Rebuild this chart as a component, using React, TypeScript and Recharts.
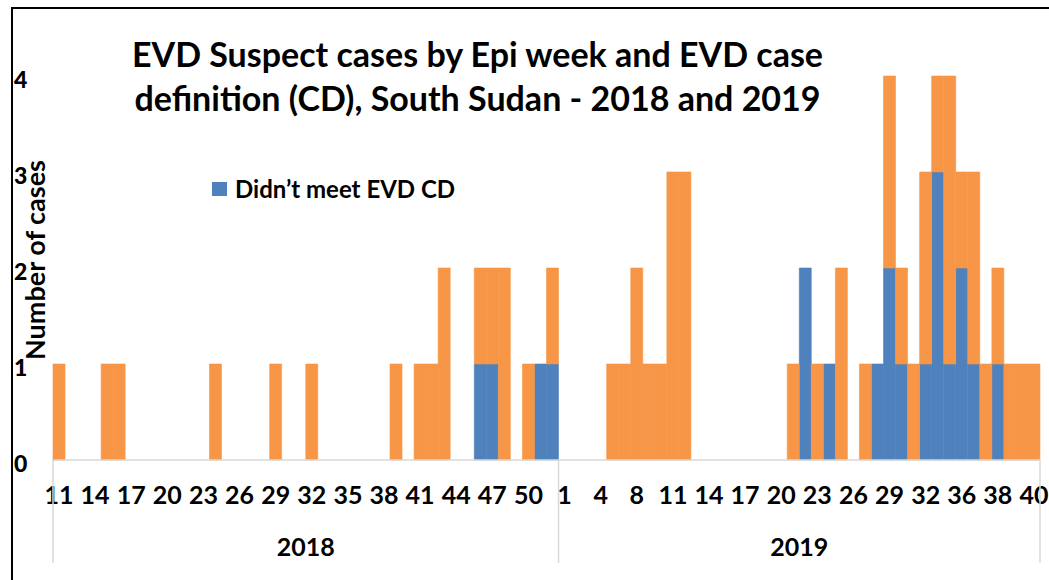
import React from 'react'
import { BarChart, Bar, XAxis, YAxis } from 'recharts'

// epi weeks shown on the category axis
const weeks2018 = ['11','12','13','14','15','16','17','18','19','20','21','22','23','24','25','26','27','28','29','30','31','32','33','34','35','36','37','38','39','40','41','42','43','44','45','46','47','48','49','50','51','52']
const weeks2019 = ['1','2','3','4','5','6','8','9','10','11','12','13','14','15','16','17','18','19','20','21','22','23','24','25','26','27','28','29','30','31','32','33','34','36','37','37','38','39','39','40']

const didntMeet2018 = [0,0,0,0,0,0,0,0,0,0, 0,0,0,0,0,0,0,0,0,0, 0,0,0,0,0,0,0,0,0,0, 0,0,0,0,0,1,1,0,0,0, 1,1]
const met2018 = [1,0,0,0,1,1,0,0,0,0, 0,0,0,1,0,0,0,0,1,0, 0,1,0,0,0,0,0,0,1,0, 1,1,2,0,0,1,1,2,0,1, 0,1]
const didntMeet2019 = [0,0,0,0,0,0,0,0,0,0, 0,0,0,0,0,0,0,0,0,0, 2,0,1,0,0,0,1,2,1,0, 1,3,1,2,1,0,1,0,0,0]
const met2019 = [0,0,0,0,1,1,2,1,1,3, 3,0,0,0,0,0,0,0,0,1, 0,1,0,2,0,1,0,2,1,1, 2,1,3,1,2,1,1,1,1,1]

const yTicks = [0, 1, 2, 3, 4]

const BLUE = '#4f81bd'
const ORANGE = '#f79646'
const FONT = 'Lato, "Open Sans", sans-serif'

const data = [
  ...weeks2018.map((w, i) => ({ key: `2018-${i}`, week: w, year: '2018', pos: i, count: weeks2018.length, didnt: didntMeet2018[i], met: met2018[i] })),
  ...weeks2019.map((w, i) => ({ key: `2019-${i}`, week: w, year: '2019', pos: i, count: weeks2019.length, didnt: didntMeet2019[i], met: met2019[i] })),
]

function WeekTick(props: any) {
  const { x, y, payload } = props
  const row = data[payload.index]
  if (!row) return null
  const half = payload.offset || 987 / data.length / 2
  const isLast = payload.index === data.length - 1
  return (
    <g>
      {row.pos % 3 === 0 && (
        <text x={x} y={y + 44} textAnchor="middle" fontFamily={FONT} fontWeight="bold" fontSize={25} fill="#000">
          {row.week}
        </text>
      )}
      {row.pos === 0 && (
        <>
          <line x1={x - half} x2={x - half} y1={y} y2={y + 103} stroke="#d9d9d9" strokeWidth={1.5} />
          <text x={x - half + row.count * half} y={y + 96} textAnchor="middle" fontFamily={FONT} fontWeight="bold" fontSize={25} fill="#000">
            {row.year}
          </text>
        </>
      )}
      {isLast && <line x1={x + half} x2={x + half} y1={y} y2={y + 103} stroke="#d9d9d9" strokeWidth={1.5} />}
    </g>
  )
}

function CountTick(props: any) {
  const { y, payload } = props
  return (
    <text x={14} y={y + 12} textAnchor="start" fontFamily={FONT} fontWeight={900} fontSize={23} fill="#000">
      {payload.value}
    </text>
  )
}

export default function App() {
  return (
    <div style={{ position: 'relative', width: 1049, height: 580, background: '#fff', overflow: 'hidden' }}>
      <style>{'body{margin:0}'}</style>
      <BarChart width={1049} height={580} data={data} margin={{ top: 76, right: 9, left: 0, bottom: 0 }} barCategoryGap={0}>
        <XAxis dataKey="key" interval={0} height={120} tick={<WeekTick />} tickLine={false} tickSize={0} tickMargin={0} axisLine={{ stroke: '#d9d9d9', strokeWidth: 1.5 }} />
        <YAxis width={53} domain={[0, 4]} ticks={yTicks} tick={<CountTick />} axisLine={false} tickLine={false} />
        <Bar dataKey="didnt" name="Didn’t meet EVD CD" stackId="a" fill={BLUE} stroke={BLUE} strokeWidth={0.6} isAnimationActive={false} />
        <Bar dataKey="met" name="Met EVD CD" stackId="a" fill={ORANGE} stroke={ORANGE} strokeWidth={0.6} isAnimationActive={false} />
      </BarChart>

      <div style={{ position: 'absolute', left: 11, top: 7, width: 1038, height: 2, background: '#000' }} />
      <div style={{ position: 'absolute', left: 11, top: 7, width: 2, height: 573, background: '#000' }} />

      <div style={{ position: 'absolute', left: 0, top: 32, width: 955, textAlign: 'center', fontFamily: FONT, fontWeight: 'bold', fontSize: 34, lineHeight: '44px', color: '#000' }}>
        EVD Suspect cases by Epi week and EVD case
        <br />
        definition (CD), South Sudan - 2018 and 2019
      </div>

      <div style={{ position: 'absolute', left: 212, top: 174, display: 'flex', alignItems: 'center', fontFamily: FONT, fontWeight: 'bold', fontSize: 24, color: '#000' }}>
        <span style={{ display: 'inline-block', width: 15, height: 14, background: BLUE, marginRight: 8 }} />
        Didn’t meet EVD CD
      </div>

      <div style={{ position: 'absolute', left: 34, top: 260, transform: 'translate(-50%, -50%) rotate(-90deg)', whiteSpace: 'nowrap', fontFamily: FONT, fontWeight: 'bold', fontSize: 27, color: '#000' }}>
        Number of cases
      </div>
    </div>
  )
}
